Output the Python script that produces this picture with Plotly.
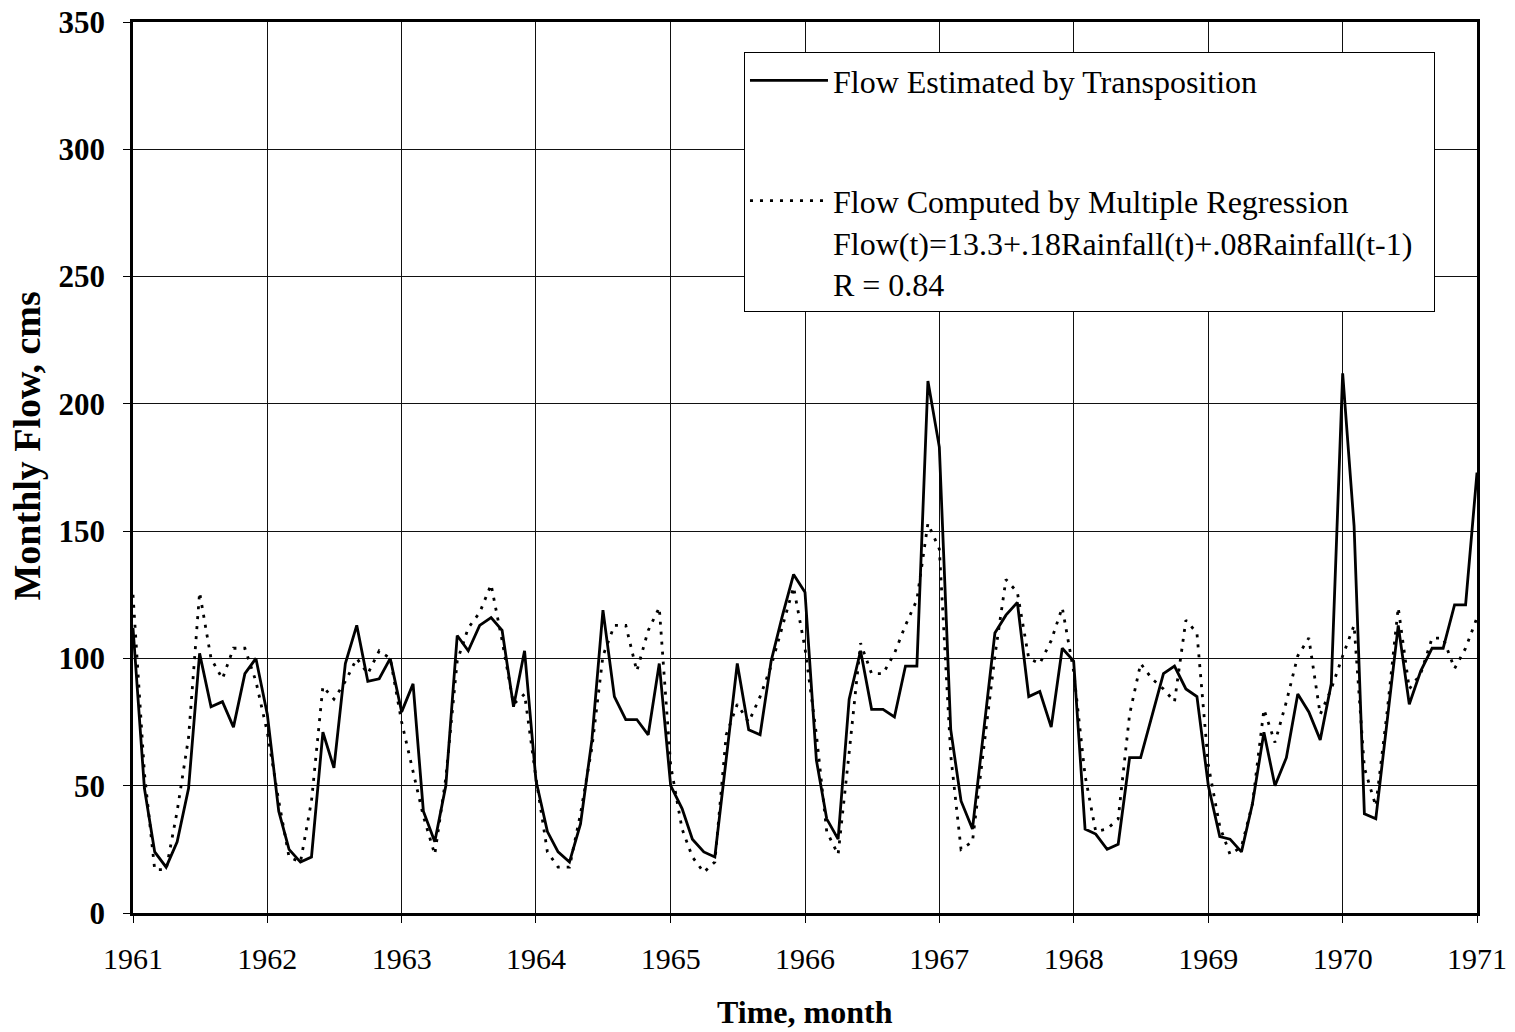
import pandas as pd
import plotly.graph_objects as go

# ---- data (monthly, Jan 1961 .. Jan 1971) ----
months = pd.date_range("1961-01-01", "1971-01-01", freq="MS")

flow_transposition = [
    112, 49, 24, 18, 28, 49, 102, 81, 83, 73, 94, 100,      # 1961
    78, 40, 25, 20, 22, 71, 57, 98, 113, 91, 92, 100,       # 1962
    79, 90, 40, 28, 50, 109, 103, 113, 116, 111, 81, 103,   # 1963
    52, 32, 24, 20, 35, 68, 119, 85, 76, 76, 70, 98,        # 1964
    50, 41, 29, 24, 22, 60, 98, 72, 70, 99, 117, 133,       # 1965
    126, 60, 37, 29, 84, 103, 80, 80, 77, 97, 97, 209,      # 1966
    183, 72, 44, 33, 72, 110, 117, 122, 85, 87, 73, 104,    # 1967
    99, 33, 31, 25, 27, 61, 61, 77, 94, 97, 88, 85,         # 1968
    50, 30, 29, 24, 43, 71, 50, 61, 86, 79, 68, 90,         # 1969
    212, 152, 39, 37, 74, 113, 82, 95, 104, 104, 121, 121,  # 1970
    173,                                                    # 1971
]

flow_regression = [
    125, 55, 17, 17, 40, 69, 126, 100, 92, 104, 104, 91,    # 1961
    71, 44, 22, 20, 44, 89, 84, 91, 100, 94, 103, 100,      # 1962
    75, 56, 38, 23, 53, 99, 112, 118, 129, 107, 82, 86,     # 1963
    53, 24, 18, 18, 39, 65, 101, 113, 113, 95, 111, 120,    # 1964
    58, 33, 22, 16, 20, 70, 82, 75, 85, 97, 113, 128,       # 1965
    104, 70, 32, 23, 63, 106, 94, 94, 102, 113, 123, 153,   # 1966
    143, 62, 25, 28, 64, 101, 131, 126, 100, 98, 107, 120,  # 1967
    95, 54, 32, 33, 37, 78, 98, 92, 88, 83, 115, 110,       # 1968
    58, 34, 23, 26, 43, 80, 67, 83, 101, 108, 78, 88,       # 1969
    101, 113, 57, 42, 78, 120, 88, 94, 108, 108, 96, 104,   # 1970
    116,                                                    # 1971
]

year_ticks = [str(y) for y in range(1961, 1972)]
y_ticks = [0, 50, 100, 150, 200, 250, 300, 350]

name_solid = "Flow Estimated by Transposition<br> "
name_dotted = ("Flow Computed by Multiple Regression<br>"
               "Flow(t)=13.3+.18Rainfall(t)+.08Rainfall(t-1)\u00a0\u00a0<br>"
               "R = 0.84")

FONT = "Liberation Serif, Times New Roman, serif"

fig = go.Figure()
fig.add_trace(go.Scatter(
    x=months, y=flow_transposition, mode="lines", name=name_solid,
    legendgroup="a",
    line=dict(color="black", width=2.8), cliponaxis=True,
))
fig.add_trace(go.Scatter(
    x=months, y=flow_regression, mode="lines", name=name_dotted,
    legendgroup="b",
    line=dict(color="black", width=2.8, dash="3px,7px"), cliponaxis=True,
))

fig.update_layout(
    width=1515, height=1032, autosize=False,
    margin=dict(l=133, r=38, t=22, b=119, autoexpand=False),
    paper_bgcolor="white", plot_bgcolor="white",
    font=dict(family=FONT, color="black", size=30),
    showlegend=True,
    legend=dict(
        x=0.4546, y=0.9663, xanchor="left", yanchor="top",
        bgcolor="white", bordercolor="black", borderwidth=1,
        font=dict(family=FONT, size=32, color="black"),
        valign="top", itemwidth=78, tracegroupgap=34,
        traceorder="grouped",
    ),
    xaxis=dict(
        type="date",
        range=[months[0], months[-1]],
        tickvals=[pd.Timestamp(f"{y}-01-01") for y in year_ticks],
        ticktext=year_ticks,
        showgrid=True, gridcolor="#111", gridwidth=1,
        showline=True, linecolor="black", linewidth=2.5, mirror=True,
        ticks="outside", ticklen=7, tickcolor="black", tickwidth=1,
        tickfont=dict(family=FONT, size=30),
        ticklabelstandoff=10,
        zeroline=False, automargin=False,
    ),
    yaxis=dict(
        range=[0, 350],
        tickvals=y_ticks,
        showgrid=True, gridcolor="#111", gridwidth=1,
        showline=True, linecolor="black", linewidth=2.5, mirror=True,
        ticks="outside", ticklen=7, tickcolor="black", tickwidth=1,
        tickfont=dict(family=FONT, size=31, weight="bold"),
        ticklabelstandoff=12,
        zeroline=False, automargin=False,
    ),
    annotations=[
        dict(text="<b>Monthly Flow, cms</b>", xref="paper", yref="paper",
             x=-0.0790, y=0.5245, textangle=-90, showarrow=False,
             font=dict(family=FONT, size=38, color="black"),
             xanchor="center", yanchor="middle"),
        dict(text="<b>Time, month</b>", xref="paper", yref="paper",
             x=0.5, y=-0.111, showarrow=False,
             font=dict(family=FONT, size=32, color="black"),
             xanchor="center", yanchor="middle"),
    ],
)

fig.write_html(
    "out.html",
    config={"displayModeBar": False},
    post_script="document.body.style.margin='0';document.body.style.overflow='hidden';",
)
